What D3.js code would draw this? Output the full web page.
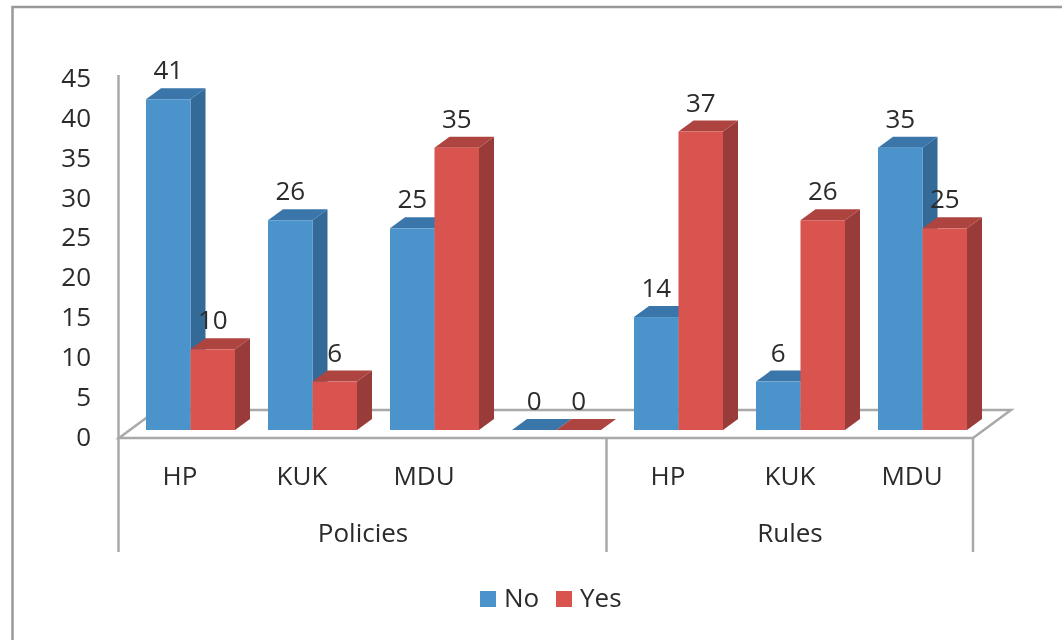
<!DOCTYPE html>
<html><head><meta charset="utf-8"><script src="https://cdn.jsdelivr.net/npm/d3@7"></script>
<style>html,body{margin:0;padding:0;background:#fff;overflow:hidden}svg{display:block;filter:blur(0.45px)}text{font-family:"Open Sans","Noto Sans",sans-serif;fill:#2b2b2b}</style>
</head><body><script>
const groups = [{name:"Policies",span:[0,4]},{name:"Rules",span:[4,7]}];
const categories = ["HP","KUK","MDU","","HP","KUK","MDU"];
const seriesNames = ["No","Yes"];
const noValues = [41,26,25,0,14,6,35];
const yesValues = [10,6,35,0,37,26,25];
const yTicks = [0,5,10,15,20,25,30,35,40,45];
const frontColors = ["#4b94cb","#d9534f"], sideColors = ["#336a98","#993c39"], topColors = ["#3a76aa","#ad4440"];
const W=1062,H=640,depthX=15,depthY=11,baseLift=8;
const svg=d3.select("body").append("svg").attr("width",W).attr("height",H);
const grey="#a9a9a9";
svg.append("path").attr("d","M12.5,640V7H1062").attr("fill","none").attr("stroke","#999").attr("stroke-width",2.5);
const y=d3.scaleLinear().domain([0,45]).range([438,75]);
const yLabel=d3.scaleLinear().domain([0,45]).range([445.5,87]);
const x=d3.scaleBand().domain(d3.range(categories.length)).range([119,973]);
const edge=i=>i>=categories.length?x(categories.length-1)+x.bandwidth():x(i);
const barW=44.5, inset=27;
const g=svg.append("g");
g.append("path").attr("d","M119,438L157,410H1011L973,438Z").attr("fill","none").attr("stroke",grey).attr("stroke-width",2.5);
g.append("path").attr("d","M118.5,75V552").attr("fill","none").attr("stroke",grey).attr("stroke-width",2.5);
[edge(4)-0.5,edge(7)].forEach(v=>g.append("line").attr("x1",v).attr("x2",v).attr("y1",438).attr("y2",552).attr("stroke",grey).attr("stroke-width",2.5));
[noValues,yesValues].forEach((vals,s)=>{
 vals.forEach((v,i)=>{
  const x0=x(i)+inset+s*barW, x1=x0+barW, yb=y(0)-baseLift, yt=y(v)-baseLift;
  const b=svg.append("g");
  b.append("path").attr("d",`M${x1},${yb}L${x1+depthX},${yb-depthY}V${yt-depthY}L${x1},${yt}Z`).attr("fill",sideColors[s]);
  b.append("path").attr("d",`M${x0},${yt}L${x0+depthX},${yt-depthY}H${x1+depthX}L${x1},${yt}Z`).attr("fill",topColors[s]);
  b.append("rect").attr("x",x0).attr("y",yt).attr("width",barW).attr("height",yb-yt).attr("fill",frontColors[s]);
 });
});
const fs=26;
yTicks.forEach(t=>svg.append("text").attr("x",91).attr("y",yLabel(t)).attr("text-anchor","end").attr("font-size",fs).text(t));
[noValues,yesValues].forEach((vals,s)=>vals.forEach((v,i)=>{
 svg.append("text").attr("x",x(i)+inset+s*barW+barW/2).attr("y",y(v)-baseLift-20).attr("text-anchor","middle").attr("font-size",fs).text(v);
}));
categories.forEach((c,i)=>svg.append("text").attr("x",x(i)+x.bandwidth()/2).attr("y",485).attr("text-anchor","middle").attr("font-size",fs).text(c));
groups.forEach(gr=>svg.append("text").attr("x",(edge(gr.span[0])+edge(gr.span[1]))/2).attr("y",542).attr("text-anchor","middle").attr("font-size",fs).text(gr.name));
[480,556].forEach((lx,s)=>{
 svg.append("rect").attr("x",lx).attr("y",591).attr("width",16).attr("height",16).attr("fill",frontColors[s]);
 svg.append("text").attr("x",lx+24).attr("y",607).attr("font-size",fs).text(seriesNames[s]);
});
</script></body></html>
